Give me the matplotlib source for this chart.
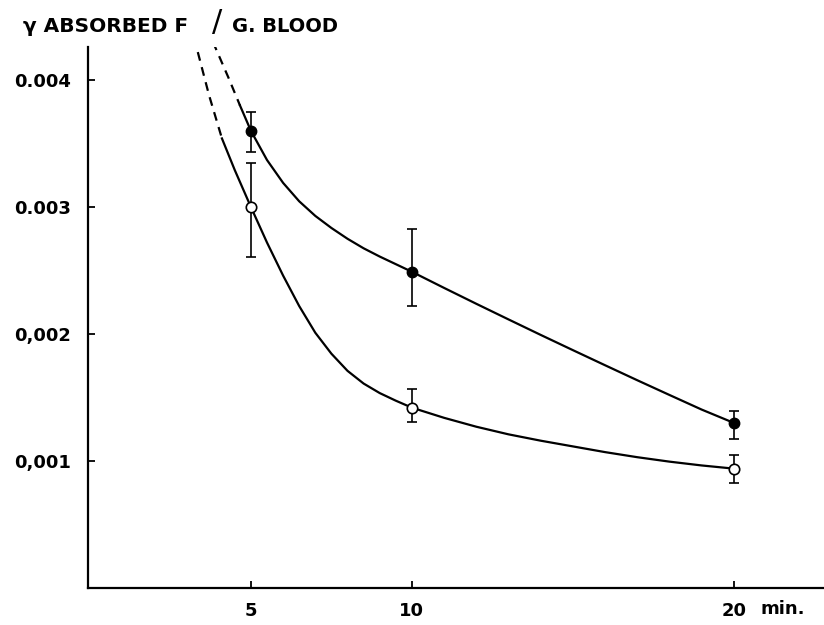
import matplotlib
matplotlib.use("Agg")
import matplotlib.pyplot as plt
import numpy as np

# measured points (minutes, gamma F per g blood)
t = [5, 10, 20]
filled_y = [0.00360, 0.00249, 0.00130]
filled_up = [0.00015, 0.00034, 0.00009]
filled_dn = [0.00017, 0.00027, 0.00013]
open_y = [0.00300, 0.00142, 0.00094]
open_up = [0.00035, 0.00015, 0.00011]
open_dn = [0.00039, 0.00011, 0.00011]

# hand drawn curves (in units of 0.001)
upper_x = [4.66, 5.0, 5.5, 6.0, 6.5, 7.0, 7.5, 8.0, 8.5, 9.0, 9.5, 10.0, 11.0, 12.0,
           13.0, 14.0, 15.0, 16.0, 17.0, 18.0, 19.0, 20.0]
upper_y = [3.80, 3.60, 3.37, 3.19, 3.045, 2.93, 2.835, 2.75, 2.675, 2.61, 2.55, 2.49,
           2.363, 2.238, 2.115, 1.993, 1.873, 1.754, 1.636, 1.52, 1.405, 1.30]
upper_dash_x = [3.82, 4.3, 4.66]
upper_dash_y = [4.30, 4.02, 3.80]
lower_x = [4.1, 4.5, 5.0, 5.5, 6.0, 6.5, 7.0, 7.5, 8.0, 8.5, 9.0, 9.5, 10.0, 11.0,
           12.0, 13.0, 14.0, 15.0, 16.0, 17.0, 18.0, 19.0, 20.0]
lower_y = [3.54, 3.29, 3.00, 2.72, 2.46, 2.22, 2.01, 1.845, 1.71, 1.61, 1.535, 1.475,
           1.42, 1.34, 1.27, 1.21, 1.16, 1.115, 1.07, 1.03, 0.995, 0.965, 0.94]
lower_dash_x = [3.35, 3.7, 4.1]
lower_dash_y = [4.22, 3.88, 3.54]

xticks = [5, 10, 20]
xticklabels = ['5', '10', '20']
yticks = [0.001, 0.002, 0.003, 0.004]
yticklabels = ['0,001', '0,002', '0.003', '0.004']

fig = plt.figure(figsize=(8.24, 6.25), dpi=100)
ax = fig.add_axes([88/824, 37/625, 736/824, 541/625])

k = 0.001
ax.plot(upper_x, np.array(upper_y)*k, color='black', lw=1.6)
ax.plot(upper_dash_x, np.array(upper_dash_y)*k, color='black', lw=1.6, ls=(0, (4, 3)))
ax.plot(lower_x, np.array(lower_y)*k, color='black', lw=1.6)
ax.plot(lower_dash_x, np.array(lower_dash_y)*k, color='black', lw=1.6, ls=(0, (4, 3)))

ax.errorbar(t, filled_y, yerr=[filled_dn, filled_up], fmt='o', color='black',
            mfc='black', mec='black', ms=7.5, capsize=3.5, elinewidth=1.2, capthick=1.2)
ax.errorbar(t, open_y, yerr=[open_dn, open_up], fmt='o', color='black',
            mfc='white', mec='black', mew=1.2, ms=7.5, capsize=3.5, elinewidth=1.2, capthick=1.2)

ax.set_xlim(-0.06, 22.8)
ax.set_ylim(0, 0.00426)
ax.spines['top'].set_visible(False)
ax.spines['right'].set_visible(False)
ax.spines['left'].set_linewidth(1.6)
ax.spines['bottom'].set_linewidth(1.6)

ax.set_xticks(xticks)
ax.set_xticklabels(xticklabels, fontsize=13, fontweight='bold')
ax.set_yticks(yticks)
ax.set_yticklabels(yticklabels, fontsize=13, fontweight='bold')
ax.tick_params(axis='both', direction='in', length=5, width=1.3)
ax.tick_params(axis='y', pad=12)
ax.tick_params(axis='x', pad=10)

fig.text(760/824, 0.026, 'min.', fontsize=13, fontweight='bold', va='center', ha='left')

fig.text(23/824, 1 - 32/625, 'γ ABSORBED F', fontsize=14.5, fontweight='bold', va='baseline')
fig.text(217/824, 1 - 22/625, '/', fontsize=22, va='center', ha='center')
fig.text(232/824, 1 - 32/625, 'G. BLOOD', fontsize=14, fontweight='bold', va='baseline')

fig.savefig('out.png', dpi=100)
